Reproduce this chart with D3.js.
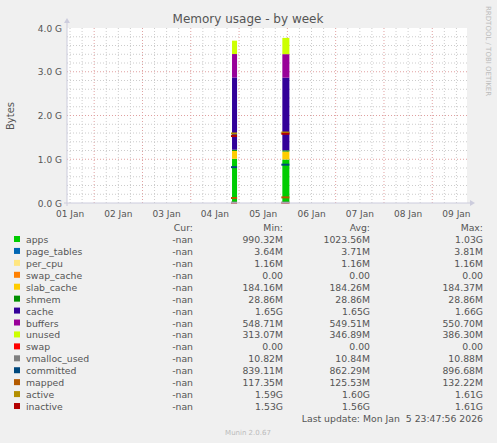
<!DOCTYPE html>
<html><head><meta charset="utf-8">
<script src="https://cdn.jsdelivr.net/npm/d3@7"></script>
<style>body{margin:0;background:#f0f0f0}text{font-family:"DejaVu Sans",sans-serif}</style>
</head><body><div id="plot"></div>
<script>
// two samples (MiB), each bar spans [start, end] in hours after 01 Jan 00:00
let sampleStart = [92.5, 117.5];
let sampleEnd = [95, 121];
let areaKeys = ['apps','page_tables','per_cpu','swap_cache','slab_cache','shmem','cache','buffers','unused'];
let lineKeys = ['swap','vmalloc_used','committed','mapped','active','inactive'];
let apps = [1030, 1015];
let page_tables = [3.64, 3.81];
let per_cpu = [1.16, 1.16];
let swap_cache = [0, 0];
let slab_cache = [184.16, 184.37];
let shmem = [28.86, 28.86];
let cache = [1690, 1700];
let buffers = [548.71, 550.7];
let unused = [313, 380];
let swap = [0, 0];
let vmalloc_used = [10.82, 10.88];
let committed = [839, 897];
let mapped = [117, 132];
let active = [1628, 1649];
let inactive = [1567, 1620];
let colors = ['#00cc00','#0066b3','#ffe680','#ff8000','#ffcc00','#008f00','#330099','#990099','#ccff00',
              '#ff0000','#808080','#00487d','#b35a00','#b38f00','#b30000'];
let legendCur = ['-nan','-nan','-nan','-nan','-nan','-nan','-nan','-nan','-nan','-nan','-nan','-nan','-nan','-nan','-nan'];
let legendMin = ['990.32M','3.64M','1.16M','0.00','184.16M','28.86M','1.65G','548.71M','313.07M','0.00','10.82M','839.11M','117.35M','1.59G','1.53G'];
let legendAvg = ['1023.56M','3.71M','1.16M','0.00','184.26M','28.86M','1.65G','549.51M','346.89M','0.00','10.84M','862.29M','125.53M','1.60G','1.56G'];
let legendMax = ['1.03G','3.81M','1.16M','0.00','184.37M','28.86M','1.66G','550.70M','386.30M','0.00','10.88M','896.68M','132.22M','1.61G','1.61G'];
let dayLabels = ['01 Jan','02 Jan','03 Jan','04 Jan','05 Jan','06 Jan','07 Jan','08 Jan','09 Jan'];
let yTicks = [0,1,2,3,4];

let series = {apps,page_tables,per_cpu,swap_cache,slab_cache,shmem,cache,buffers,unused,swap,vmalloc_used,committed,mapped,active,inactive};
let allKeys = areaKeys.concat(lineKeys);
let rows = sampleStart.map((s,i) => {
    let r = {s:s, e:sampleEnd[i]};
    allKeys.forEach(k => r[k] = series[k][i] / 1024);
    return r;
});

let svg = d3.select('#plot').append('svg').attr('width',497).attr('height',443);
let L = 67, R = 467, T = 28, B = 203;
let x = d3.scaleLinear().domain([10.5, 10.5 + 400/48.3*24]).range([L,R]);
let y = d3.scaleLinear().domain([0,4]).range([B,T]);

svg.append('rect').attr('x',L).attr('y',T).attr('width',R-L).attr('height',B-T).attr('fill','#fff');

// grid
let g = svg.append('g');
for (let h = 12; h < 216; h += 6) {
    if (x(h) <= L || x(h) >= R) continue;
    g.append('line').attr('x1',x(h)).attr('x2',x(h)).attr('y1',T).attr('y2',B)
        .attr('stroke', h % 24 ? '#ccc' : '#e0a0a0').attr('stroke-dasharray','1,2');
}
for (let v = 0.2; v <= 4; v += 0.2) {
    let major = Math.abs(v - Math.round(v)) < 1e-6;
    g.append('line').attr('x1',L).attr('x2',R).attr('y1',y(v)).attr('y2',y(v))
        .attr('stroke', major ? '#e0a0a0' : '#ccc').attr('stroke-dasharray','1,2');
}

// stacked areas
let stack = d3.stack().keys(areaKeys)(rows);
stack.forEach((layer,i) => {
    svg.append('g').selectAll('rect').data(layer).join('rect')
        .attr('x', d => x(d.data.s)).attr('width', d => x(d.data.e) - x(d.data.s))
        .attr('y', d => y(d[1])).attr('height', d => y(d[0]) - y(d[1]))
        .attr('fill', colors[i]);
});
// line series as short segments
lineKeys.forEach((k,i) => {
    svg.append('g').selectAll('line').data(rows).join('line')
        .attr('x1', d => x(d.s) - 1).attr('x2', d => x(d.e))
        .attr('y1', d => y(d[k])).attr('y2', d => y(d[k]))
        .attr('stroke', colors[areaKeys.length + i]).attr('stroke-width', 2);
});

// axes
svg.append('line').attr('x1',L).attr('x2',L).attr('y1',B+3).attr('y2',T-6).attr('stroke','#ccd');
svg.append('line').attr('x1',L-3).attr('x2',R+4).attr('y1',B).attr('y2',B).attr('stroke','#ccd');
svg.append('path').attr('d',`M${L-3},${T-5}L${L+3},${T-5}L${L},${T-10}Z`).attr('fill','#ccd');
svg.append('path').attr('d',`M${R+3},${B-3}L${R+3},${B+3}L${R+8},${B}Z`).attr('fill','#ccd');

svg.selectAll('.yt').data(yTicks).join('text')
    .attr('x', L-5).attr('y', d => y(d)+3.5).attr('text-anchor','end')
    .attr('font-size',9).attr('fill','#555').text(d => d.toFixed(1) + ' G');
svg.selectAll('.xt').data(dayLabels).join('text')
    .attr('x', (d,i) => x(i*24+12)).attr('y', B+14).attr('text-anchor','middle')
    .attr('font-size',9).attr('fill','#555').text(d => d);

svg.append('text').attr('x',248).attr('y',23).attr('text-anchor','middle')
    .attr('font-size',12).attr('fill','#555').text('Memory usage - by week');
svg.append('text').attr('transform','translate(14,116) rotate(-90)').attr('text-anchor','middle')
    .attr('font-size',10).attr('fill','#555').text('Bytes');
svg.append('text').attr('transform','translate(486,6) rotate(90)')
    .attr('font-size',7).attr('fill','#bbb').text('RRDTOOL / TOBI OETIKER');

// legend
let lg = svg.append('g').attr('font-size',9.3).attr('fill','#555')
    .style('font-family','"DejaVu Sans Mono",monospace');
let heads = [['Cur:',193],['Min:',283],['Avg:',370],['Max:',483]];
heads.forEach(h => lg.append('text').attr('x',h[1]).attr('y',231).attr('text-anchor','end').text(h[0]));
allKeys.forEach((k,i) => {
    let yy = 243 + i*11.93;
    lg.append('rect').attr('x',14).attr('y',yy-7).attr('width',6).attr('height',6).attr('fill',colors[i]);
    lg.append('text').attr('x',26).attr('y',yy).text(k);
    [legendCur,legendMin,legendAvg,legendMax].forEach((arr,j) =>
        lg.append('text').attr('x',heads[j][1]).attr('y',yy).attr('text-anchor','end').text(arr[i]));
});
lg.append('text').attr('x',483).attr('y',422).attr('text-anchor','end').style('white-space','pre')
    .text('Last update: Mon Jan  5 23:47:56 2026');
svg.append('text').attr('x',248).attr('y',435).attr('text-anchor','middle')
    .attr('font-size',7).attr('fill','#bbb').text('Munin 2.0.67');
</script></body></html>
